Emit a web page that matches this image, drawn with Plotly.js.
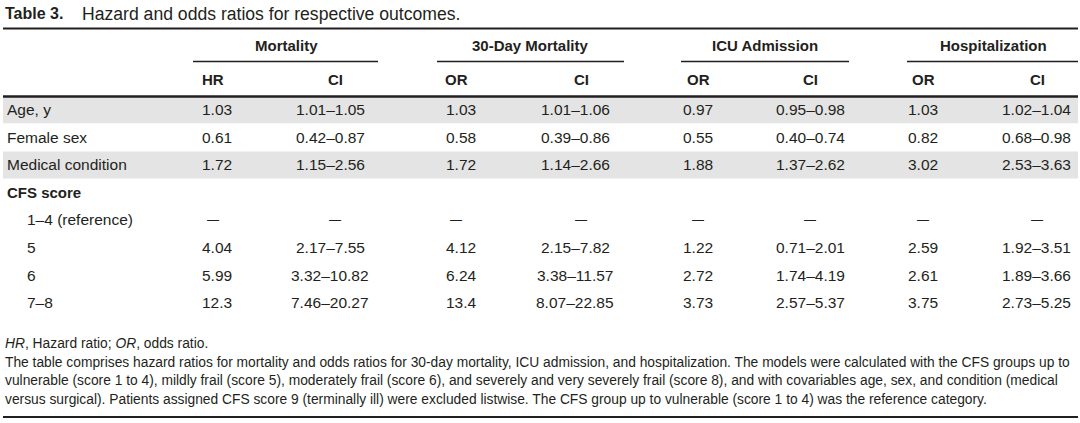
<!DOCTYPE html>
<html>
<head>
<meta charset="utf-8">
<script src="https://cdn.plot.ly/plotly-3.0.1.min.js"></script>
<style>html,body{margin:0;padding:0;background:#fff;}#chart{width:1080px;height:423px;}</style>
</head>
<body>
<div id="chart"></div>
<script>
// ---------- DATA ----------
const tableTitleLabel = "Table 3.";
const tableTitle = "Hazard and odds ratios for respective outcomes.";
const outcomeGroups = ["Mortality", "30-Day Mortality", "ICU Admission", "Hospitalization"];
const subHeaders = ["HR", "CI", "OR", "CI", "OR", "CI", "OR", "CI"];
const rowLabels = ["Age, y", "Female sex", "Medical condition", "CFS score", "1–4 (reference)", "5", "6", "7–8"];
const mortalityHR   = ["1.03", "0.61", "1.72", "", "—", "4.04", "5.99", "12.3"];
const mortalityCI   = ["1.01–1.05", "0.42–0.87", "1.15–2.56", "", "—", "2.17–7.55", "3.32–10.82", "7.46–20.27"];
const mort30OR      = ["1.03", "0.58", "1.72", "", "—", "4.12", "6.24", "13.4"];
const mort30CI      = ["1.01–1.06", "0.39–0.86", "1.14–2.66", "", "—", "2.15–7.82", "3.38–11.57", "8.07–22.85"];
const icuOR         = ["0.97", "0.55", "1.88", "", "—", "1.22", "2.72", "3.73"];
const icuCI         = ["0.95–0.98", "0.40–0.74", "1.37–2.62", "", "—", "0.71–2.01", "1.74–4.19", "2.57–5.37"];
const hospOR        = ["1.03", "0.82", "3.02", "", "—", "2.59", "2.61", "3.75"];
const hospCI        = ["1.02–1.04", "0.68–0.98", "2.53–3.63", "", "—", "1.92–3.51", "1.89–3.66", "2.73–5.25"];
const footnotes = [
  "<i>HR</i>, Hazard ratio; <i>OR</i>, odds ratio.",
  "The table comprises hazard ratios for mortality and odds ratios for 30-day mortality, ICU admission, and hospitalization. The models were calculated with the CFS groups up to",
  "vulnerable (score 1 to 4), mildly frail (score 5), moderately frail (score 6), and severely and very severely frail (score 8), and with covariables age, sex, and condition (medical",
  "versus surgical). Patients assigned CFS score 9 (terminally ill) were excluded listwise. The CFS group up to vulnerable (score 1 to 4) was the reference category."
];

// ---------- LAYOUT / STYLE ----------
const FONT = "Liberation Sans, Arial, sans-serif";
const INK = "#231f20";
const SHADE = "#e4e4e4";
const shadedRows = [0, 2];
const boldRows = [3];
const indentRows = [4, 5, 6, 7];
const valueColumns = [mortalityHR, mortalityCI, mort30OR, mort30CI, icuOR, icuCI, hospOR, hospCI];
const headerX = [213, 335, 456, 581, 698, 810, 923, 1037];
const valueX  = [217, 330, 461, 575, 698, 810, 923, 1036];
const groupX = [286, 530, 765, 993];
const groupSpan = [[193, 378], [437, 624], [681, 849], [907, 1078]];
const rowY0 = 109.5, rowPitch = 27.6;
const rowY = i => rowY0 + i * rowPitch;
const leftX = 6, indentX = 26, rightEdge = 1078;
const BODY_SIZE = 15.5, HEAD_SIZE = 15, FOOT_SIZE = 13.8, DASH_SIZE = 12;

const ann = [];
const shapes = [];
function txt(x, y, text, opts) {
  opts = opts || {};
  ann.push({
    xref: 'x', yref: 'y', x: x, y: y, text: text, showarrow: false,
    xanchor: opts.anchor || 'center', yanchor: 'middle',
    font: {family: FONT, size: opts.size || BODY_SIZE, color: INK},
    borderpad: 0, align: 'left'
  });
}
function hline(x0, x1, y, w) {
  shapes.push({type: 'line', xref: 'x', yref: 'y', x0: x0, x1: x1, y0: y, y1: y,
    line: {color: INK, width: w}});
}

// title
txt(4, 13, "<b>" + tableTitleLabel + "</b>", {anchor: 'left', size: 16});
txt(81, 13.5, tableTitle, {anchor: 'left', size: 17.6});

// shaded bands
shadedRows.forEach(r => {
  shapes.push({type: 'rect', xref: 'x', yref: 'y', x0: 3, x1: rightEdge,
    y0: rowY(r) - rowPitch / 2 + 0.5, y1: rowY(r) + rowPitch / 2,
    fillcolor: SHADE, line: {width: 0}, layer: 'below'});
});

// rules
hline(3, rightEdge, 28.5, 2);
hline(3, rightEdge, 96.5, 2.5);
hline(3, rightEdge, 417, 2);
groupSpan.forEach(s => hline(s[0], s[1], 61.5, 1.5));

// headers
outcomeGroups.forEach((g, i) => txt(groupX[i], 45.5, "<b>" + g + "</b>", {size: HEAD_SIZE}));
subHeaders.forEach((h, i) => txt(headerX[i], 79.5, "<b>" + h + "</b>", {size: HEAD_SIZE}));

// body
rowLabels.forEach((lab, r) => {
  const isBold = boldRows.includes(r);
  const x = indentRows.includes(r) ? indentX : leftX;
  txt(x, rowY(r), isBold ? "<b>" + lab + "</b>" : lab, {anchor: 'left', size: isBold ? HEAD_SIZE : BODY_SIZE});
  valueColumns.forEach((col, c) => {
    const v = col[r];
    if (!v) return;
    if (v === "—") txt(headerX[c], rowY(r), v, {size: DASH_SIZE});
    else txt(valueX[c], rowY(r), v);
  });
});

// footnotes
const footY = [343.5, 362, 380.5, 399];
footnotes.forEach((f, i) => txt(4, footY[i], f, {anchor: 'left', size: FOOT_SIZE}));

const layout = {
  width: 1080, height: 423,
  margin: {l: 0, r: 0, t: 0, b: 0},
  paper_bgcolor: '#ffffff', plot_bgcolor: '#ffffff',
  xaxis: {range: [0, 1080], visible: false, fixedrange: true},
  yaxis: {range: [423, 0], visible: false, fixedrange: true},
  showlegend: false,
  annotations: ann,
  shapes: shapes
};
Plotly.newPlot('chart', [{x: [], y: [], type: 'scatter', mode: 'markers', hoverinfo: 'skip'}], layout,
  {staticPlot: true, displayModeBar: false});
</script>
</body>
</html>
